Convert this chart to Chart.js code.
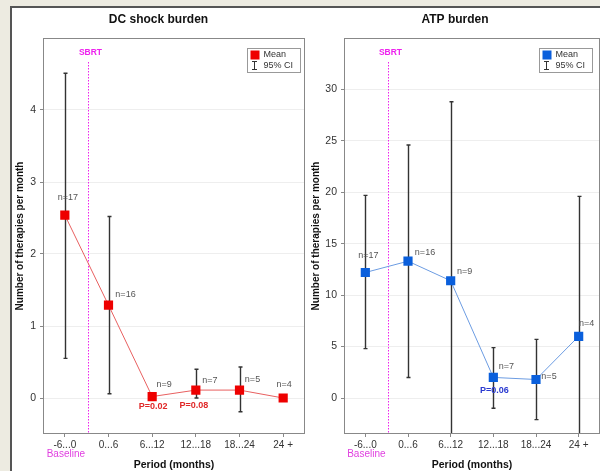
<!DOCTYPE html>
<html>
<head>
<meta charset="utf-8">
<script src="https://cdn.jsdelivr.net/npm/chart.js@4.4.1/dist/chart.umd.min.js"></script>
<style>
  html, body { margin: 0; padding: 0; width: 600px; height: 471px; overflow: hidden; background: #edebe1; }
  #panel { position: absolute; left: 10px; top: 6px; width: 600px; height: 480px; background: #fff;
           border-left: 2px solid #555; border-top: 2px solid #555; box-sizing: border-box; }
  canvas { position: absolute; top: 0; }
</style>
</head>
<body>
<div id="panel"></div>
<canvas id="dcChart" width="296" height="471" style="left:12px"></canvas>
<canvas id="atpChart" width="294" height="471" style="left:310px"></canvas>
<script>
// data
const periods = ["-6...0", "0...6", "6...12", "12...18", "18...24", "24 +"];
const nCounts = ["n=17", "n=16", "n=9", "n=7", "n=5", "n=4"];

const dcMean = [2.54, 1.29, 0.02, 0.11, 0.11, 0.0];
const dcLow = [0.55, 0.06, null, 0.0, -0.19, null];
const dcHigh = [4.51, 2.52, null, 0.40, 0.43, null];
const dcTicks = [0, 1, 2, 3, 4];
const dcP = [null, null, "P=0.02", "P=0.08", null, null];

const atpMean = [12.2, 13.3, 11.4, 2.0, 1.8, 6.0];
const atpLow = [4.8, 2.0, -6.0, -1.0, -2.1, -7.6];
const atpHigh = [19.7, 24.6, 28.8, 4.9, 5.7, 19.6];
const atpTicks = [0, 5, 10, 15, 20, 25, 30];
const atpP = [null, null, null, "P=0.06", null, null];

const sbrtAt = 0.53; // SBRT sits between baseline and first period

const FONT = "'Liberation Sans', Arial, sans-serif";
const MAGENTA = "#ee22ee";

// error bars, SBRT line, labels, legend
const extras = {
  id: "extras",
  beforeDatasetsDraw(chart, args, o) {
    const { ctx, chartArea: a, scales: { x, y } } = chart;
    ctx.save();
    ctx.beginPath();
    ctx.rect(a.left, a.top, a.width, a.height);
    ctx.clip();

    const sx = Math.round(x.getPixelForValue(sbrtAt)) + 0.5;
    ctx.strokeStyle = MAGENTA;
    ctx.lineWidth = 1;
    ctx.setLineDash([1.5, 1.5]);
    ctx.beginPath();
    ctx.moveTo(sx, a.top + 24);
    ctx.lineTo(sx, a.bottom);
    ctx.stroke();
    ctx.setLineDash([]);

    ctx.strokeStyle = "#333";
    ctx.lineWidth = 1.4;
    o.low.forEach((lo, i) => {
      const hi = o.high[i];
      if (lo == null || hi == null) return;
      const px = Math.round(x.getPixelForValue(i)) + 0.5;
      const y1 = y.getPixelForValue(lo);
      const y2 = y.getPixelForValue(hi);
      ctx.beginPath();
      ctx.moveTo(px, y1);
      ctx.lineTo(px, y2);
      ctx.moveTo(px - 2, y1);
      ctx.lineTo(px + 2, y1);
      ctx.moveTo(px - 2, y2);
      ctx.lineTo(px + 2, y2);
      ctx.stroke();
    });
    ctx.restore();
  },
  afterDatasetsDraw(chart, args, o) {
    const { ctx, chartArea: a, scales: { x, y } } = chart;
    const mean = chart.data.datasets[0].data;
    ctx.save();

    // plot frame
    ctx.strokeStyle = "#888";
    ctx.lineWidth = 1;
    ctx.strokeRect(Math.round(a.left) + 0.5, Math.round(a.top) + 0.5,
                   Math.round(a.width) - 1, Math.round(a.height) - 1);

    ctx.textAlign = "center";
    ctx.textBaseline = "middle";

    // n= labels
    ctx.font = "9px " + FONT;
    ctx.fillStyle = "#555";
    nCounts.forEach((t, i) => {
      const off = o.nOff[i];
      ctx.fillText(t, x.getPixelForValue(i) + off[0], y.getPixelForValue(mean[i]) + off[1]);
    });

    // P values
    ctx.font = "bold 9px " + FONT;
    ctx.fillStyle = o.pColor;
    o.p.forEach((t, i) => {
      if (!t) return;
      const off = o.pOff[i];
      ctx.fillText(t, x.getPixelForValue(i) + off[0], y.getPixelForValue(mean[i]) + off[1]);
    });

    // SBRT + Baseline
    const sx = x.getPixelForValue(sbrtAt);
    ctx.fillStyle = MAGENTA;
    ctx.font = "bold 8.5px " + FONT;
    ctx.fillText("SBRT", sx + 2.5, a.top + 15);
    ctx.fillStyle = "#e040e0";
    ctx.font = "10px " + FONT;
    ctx.fillText("Baseline", x.getPixelForValue(0) + 1, a.bottom + 20);

    // legend
    const bw = 53, bh = 24;
    const bx = Math.round(a.right - o.legInset - bw) + 0.5;
    const by = Math.round(a.top + 10) + 0.5;
    ctx.fillStyle = "#fff";
    ctx.fillRect(bx, by, bw, bh);
    ctx.strokeStyle = "#999";
    ctx.strokeRect(bx, by, bw, bh);
    ctx.fillStyle = o.markColor;
    ctx.fillRect(bx + 3, by + 2, 9, 9);
    ctx.strokeStyle = "#333";
    ctx.beginPath();
    ctx.moveTo(bx + 7, by + 13); ctx.lineTo(bx + 7, by + 21);
    ctx.moveTo(bx + 4.5, by + 13); ctx.lineTo(bx + 9.5, by + 13);
    ctx.moveTo(bx + 4.5, by + 21); ctx.lineTo(bx + 9.5, by + 21);
    ctx.stroke();
    ctx.fillStyle = "#333";
    ctx.font = "9px " + FONT;
    ctx.textAlign = "left";
    ctx.fillText("Mean", bx + 16, by + 6.5);
    ctx.fillText("95% CI", bx + 16, by + 17.5);
    ctx.restore();
  }
};

const makeChart = (id, cfg) => {
  const ctx = document.getElementById(id).getContext("2d");
  return new Chart(ctx, {
    type: "line",
    data: {
      labels: periods,
      datasets: [
        {
          data: cfg.mean,
          borderColor: cfg.lineColor,
          borderWidth: 1,
          backgroundColor: cfg.markColor,
          pointStyle: "rect",
          pointRadius: 6.5,
          pointBorderWidth: 0,
          pointBackgroundColor: cfg.markColor,
          tension: 0,
        },
      ],
    },
    plugins: [extras],
    options: {
      responsive: false,
      animation: false,
      layout: { autoPadding: false, padding: { left: 0, right: cfg.padRight, top: 0, bottom: 0 } },
      plugins: {
        legend: { display: false },
        tooltip: { enabled: false },
        title: {
          display: true,
          text: cfg.title,
          color: "#111",
          font: { family: FONT, size: 12, weight: "bold" },
          padding: { top: 12, bottom: 11.6 },
        },
        extras: {
          low: cfg.low,
          high: cfg.high,
          p: cfg.p,
          pColor: cfg.pColor,
          nOff: cfg.nOff,
          pOff: cfg.pOff,
          markColor: cfg.markColor,
          legInset: cfg.legInset,
        },
      },
      scales: {
        x: {
          type: "category",
          offset: true,
          grid: { display: true, drawOnChartArea: false, tickLength: 3, color: "#888" },
          border: { display: false },
          ticks: { color: "#333", font: { family: FONT, size: 10 }, padding: 2, maxRotation: 0 },
          title: {
            display: true,
            text: "Period (months)",
            color: "#111",
            font: { family: FONT, size: 10.5, weight: "bold" },
            padding: { top: 4, bottom: 0 },
          },
          afterFit: (s) => {
            s.height = 37;
            s.paddingLeft = 0;
            s.paddingRight = 0;
          },
        },
        y: {
          min: cfg.min,
          max: cfg.max,
          afterBuildTicks: (s) => { s.ticks = cfg.ticks.map((v) => ({ value: v })); },
          grid: { color: "#eeeeee", tickColor: "#888", tickLength: 3 },
          border: { display: false },
          ticks: { color: "#333", font: { family: FONT, size: 10.5 }, padding: 4 },
          title: {
            display: true,
            text: "Number of therapies per month",
            color: "#111",
            font: { family: FONT, size: 10, weight: "bold" },
            padding: { top: cfg.yTitlePad, bottom: 0 },
          },
          afterFit: (s) => { s.width = cfg.yWidth; },
        },
      },
    },
  });
};

makeChart("dcChart", {
  title: "DC shock burden",
  mean: dcMean, low: dcLow, high: dcHigh, p: dcP, ticks: dcTicks,
  min: -0.5, max: 5,
  lineColor: "#e86060", markColor: "#ee0000", pColor: "#e02828",
  nOff: [[3, -18], [17, -11], [12, -12], [14, -10], [13, -11], [1, -13]],
  pOff: [null, null, [1, 10], [-2, 15], null, null],
  padRight: 3, yWidth: 31, yTitlePad: 2, legInset: 5,
});

makeChart("atpChart", {
  title: "ATP burden",
  mean: atpMean, low: atpLow, high: atpHigh, p: atpP, ticks: atpTicks,
  min: -3.5, max: 35,
  lineColor: "#6c9ce2", markColor: "#0a5fdc", pColor: "#2a3ad0",
  nOff: [[3, -17], [17, -9], [14, -9], [13, -11], [13, -3], [8, -13]],
  pOff: [null, null, null, [1, 13], null, null],
  padRight: 4, yWidth: 34, yTitlePad: 0, legInset: 8,
});
</script>
</body>
</html>
